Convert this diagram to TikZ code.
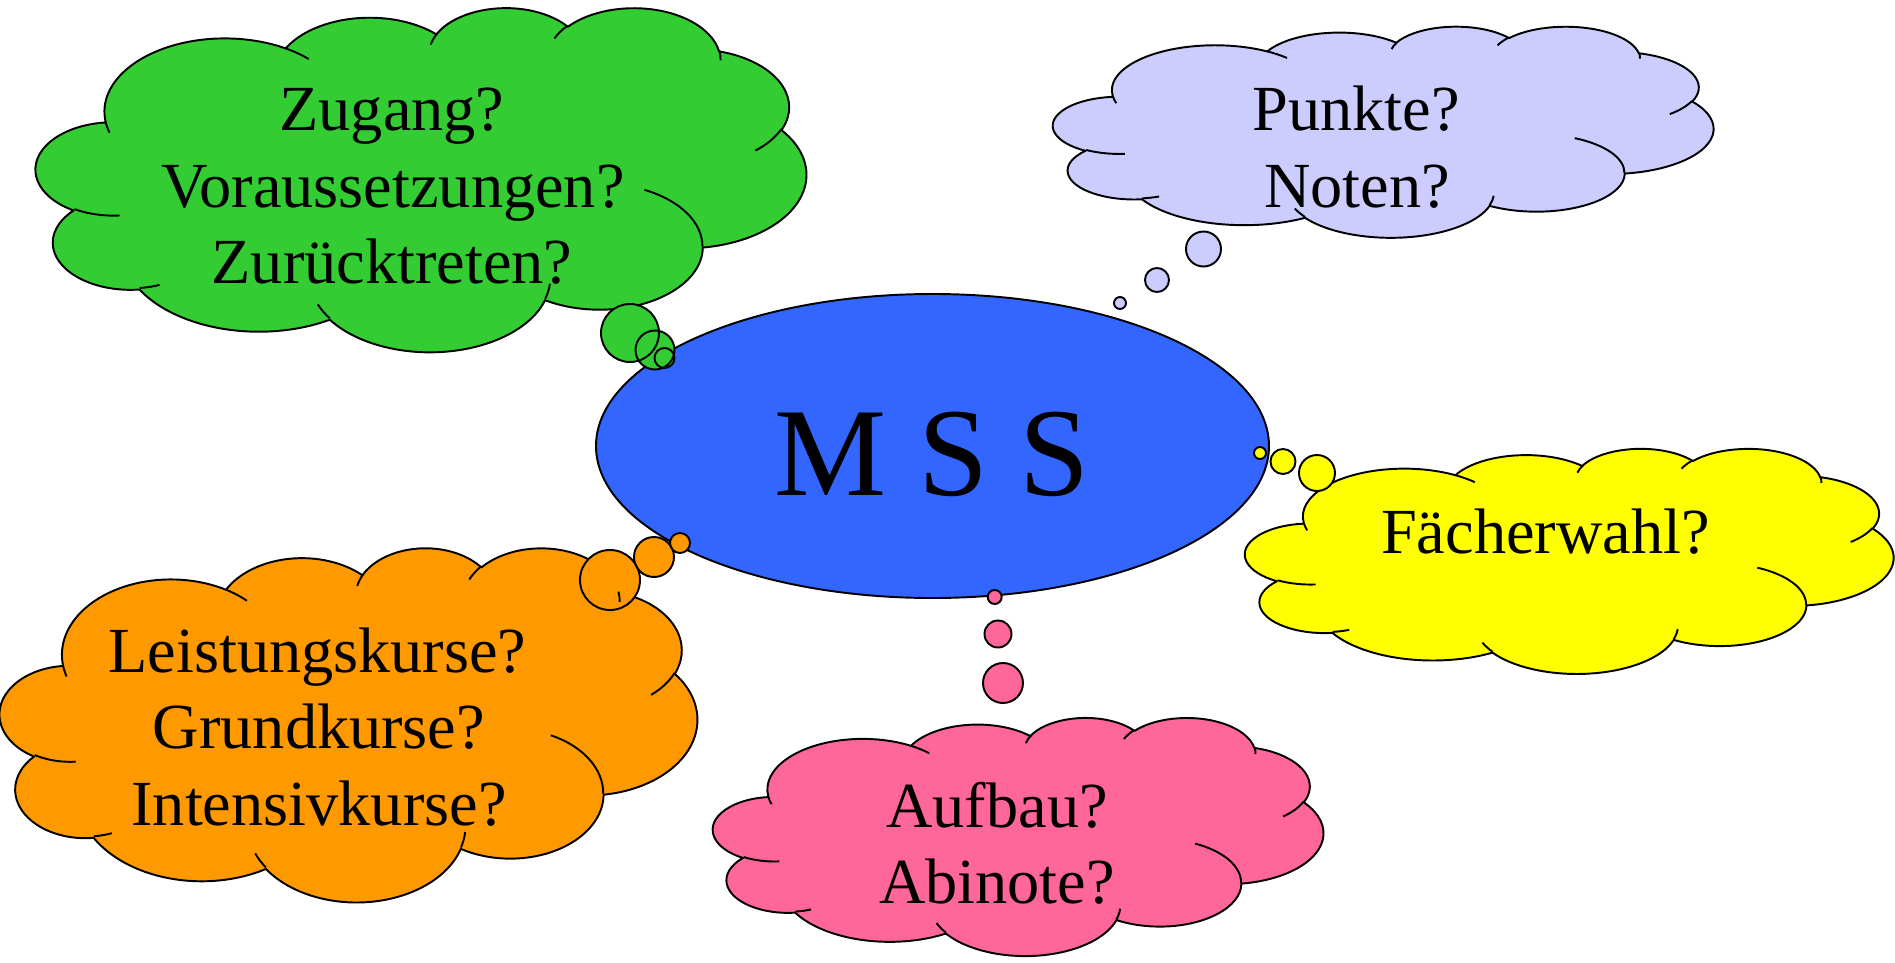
\documentclass[tikz,border=0pt]{standalone}
\usepackage{fontspec}
\setmainfont{Liberation Serif}
\usetikzlibrary{shapes.geometric}
\definecolor{cgreen}{HTML}{33CC33}
\definecolor{clav}{HTML}{CCCCFF}
\definecolor{cyel}{HTML}{FFFF00}
\definecolor{corange}{HTML}{FF9900}
\definecolor{cpink}{HTML}{FF6699}
\definecolor{cblue}{HTML}{3366FF}
\tikzset{
  cloudline/.style={draw=black, line width=1.1pt, line join=round},
  cloudtext/.style={inner sep=0pt, anchor=base, font=\fontsize{36.6pt}{44pt}\selectfont},
  px/.style={x=0.2mm, y=-0.2mm}
}
\newcommand\parc[4]{arc[x radius=#1, y radius=#2,
  start angle={atan2((#1)*sin(#3),(#2)*cos(#3))},
  delta angle={Mod(atan2((#1)*sin((#3)+(#4)),(#2)*cos((#3)+(#4)))-atan2((#1)*sin(#3),(#2)*cos(#3)),360)}]}
\newcommand\thoughtcloud[6]{%
  \begin{scope}[shift={(0.02*#1,-0.02*#2)}, xscale={0.02*#3/43.2}, yscale={-0.02*#4/43.2}]
    \path[cloudline, fill=#5] (3.9,14.37)
      \parc{6.753}{9.19}{-190.48748}{123.78053}
      \parc{5.333}{7.267}{-144.10238}{89.94523}
      \parc{4.365}{5.945}{-145.80792}{99.72302}
      \parc{4.857}{6.595}{-130.98607}{117.24173}
      \parc{5.333}{7.273}{-78.70888}{109.02692}
      \parc{6.775}{9.22}{-46.26725}{130.269}
      \parc{5.785}{7.867}{0.62502}{114.03333}
      \parc{6.752}{9.215}{22.4516}{115.17255}
      \parc{7.72}{10.543}{66.24263}{75.71102}
      \parc{4.36}{5.918}{-274.94208}{146.73557}
      \parc{4.345}{5.945}{-246.8285}{152.51885} -- cycle;
  \end{scope}
  \begin{scope}[px]
    \path[cloudline, fill=#5] #6;
  \end{scope}
  \begin{scope}[shift={(0.02*#1,-0.02*#2)}, xscale={0.02*#3/43.2}, yscale={-0.02*#4/43.2}]
    \path[cloudline]
      (4.693,26.177) \parc{4.345}{5.945}{86.742}{26.4295}
      (6.928,34.899) \parc{4.36}{5.918}{73.61047}{11.44747}
      (16.478,39.09) \parc{6.752}{9.215}{137.62415}{14.0811}
      (28.827,34.751) \parc{6.752}{9.215}{6.45327}{15.99835}
      (34.129,22.954) \parc{5.785}{7.867}{-70.29235}{70.91737}
      (41.798,15.354) \parc{5.333}{7.273}{30.31803}{27.7515}
      (38.324,5.426) \parc{4.857}{6.595}{-13.74433}{14.8589}
      (29.078,3.952) \parc{4.857}{6.595}{-149.18145}{18.19537}
      (22.141,4.72) \parc{4.365}{5.945}{-163.49427}{17.68635}
      (14,5.192) \parc{6.753}{9.19}{-66.70695}{12.31935}
      (4.127,15.789) \parc{6.753}{9.19}{157.65435}{11.85817};
  \end{scope}}
\begin{document}
\begin{tikzpicture}
\path[use as bounding box] (0,0) rectangle (37.9,-19.24);
\begin{scope}[px]
  \node[ellipse, cloudline, fill=cblue, minimum width=134.6mm, minimum height=60.8mm,
        inner sep=0pt, text height=19.6mm, text depth=0pt, font=\fontsize{71.7pt}{80pt}\selectfont] (mss) at (932.5,446) {M S S};
\end{scope}
% green cloud
\thoughtcloud{36}{7}{770}{344}{cgreen}{(630,333) circle[radius=5.8mm] (655,350) circle[radius=3.9mm] (664.5,358) circle[radius=2mm]}
% lavender cloud
\thoughtcloud{1053}{26}{660}{211}{clav}{(1203.5,249) circle[radius=3.5mm] (1157,280) circle[radius=2.4mm] (1120,303) circle[radius=1.2mm]}
% yellow cloud
\thoughtcloud{1245}{448}{648}{225}{cyel}{(1317,473) circle[radius=3.6mm] (1283,461.5) circle[radius=2.5mm] (1260,453) circle[radius=1.2mm]}
% orange cloud
\thoughtcloud{0}{547}{697}{354}{corange}{(610,580) circle[radius=6mm] (654,557) circle[radius=4mm] (680,543) circle[radius=2mm]}
% pink cloud
\thoughtcloud{713}{717}{610}{238}{cpink}{(1003,683) circle[radius=4mm] (998,634) circle[radius=2.7mm] (994.7,597) circle[radius=1.4mm]}
\begin{scope}[px]
  \node[cloudtext] (g1) at (392,130) {Zugang?};
  \node[cloudtext] (g2) at (393,207) {Voraussetzungen?};
  \node[cloudtext] (g3) at (392,283) {Zurücktreten?};
  \node[cloudtext] (l1) at (1356,130) {Punkte?};
  \node[cloudtext] (l2) at (1357,207) {Noten?};
  \node[cloudtext] (y1) at (1545.5,553) {Fächerwahl?};
  \node[cloudtext] (o1) at (317.5,672) {Leistungskurse?};
  \node[cloudtext] (o2) at (319,748) {Grundkurse?};
  \node[cloudtext] (o3) at (319,825) {Intensivkurse?};
  \node[cloudtext] (p1) at (997,827) {Aufbau?};
  \node[cloudtext] (p2) at (997,903) {Abinote?};
\end{scope}
\end{tikzpicture}
\end{document}
